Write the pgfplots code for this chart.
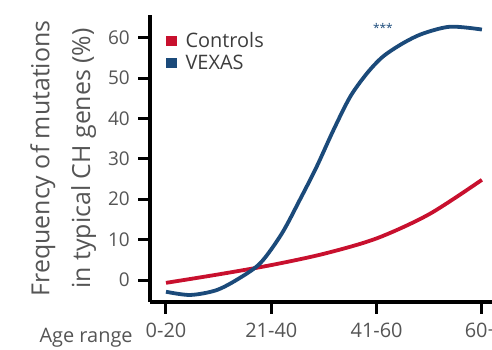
\documentclass[border=0pt]{standalone}
\usepackage{pgfplots}
\pgfplotsset{compat=1.18}
\usepackage{fontspec}
\setmainfont{Open Sans}
\definecolor{ctrl}{HTML}{C8102E}
\definecolor{vex}{HTML}{1B4A7A}
\definecolor{txt}{HTML}{555555}
\definecolor{legtxt}{HTML}{3C3C3C}
\begin{document}
\begin{tikzpicture}
\begin{axis}[
  x=105.3bp, y=4.04bp,
  xmin=-0.15, xmax=3.3, ymin=-5.4, ymax=65.6,
  axis lines=left,
  axis line style={line width=4.2bp, -, black},
  clip=false,
  xtick={0,1,2,3}, xticklabels={0-20,21-40,41-60,60+},
  ytick={0,10,20,30,40,50,60},
  tick align=outside,
  major tick length=12bp,
  tick style={line width=3bp, black},
  ticklabel style={font=\fontsize{20}{24}\selectfont, text=txt},
  xticklabel style={yshift=-6bp},
  yticklabel style={font=\fontsize{19}{23}\selectfont, xshift=-5bp},
  /pgf/number format/assume math mode=true,
  ylabel={Frequency of mutations\\in typical CH genes (\%)},
  ylabel style={at={(axis description cs:-0.2395,0.5)}, anchor=center,
    align=center, font=\fontsize{25}{41}\selectfont, text=txt},
  legend style={at={(axis cs:0.0,61.6)}, anchor=north west, draw=none, fill=none,
    font=\fontsize{20}{24}\selectfont, text=legtxt, inner sep=0pt,
    row sep=3bp, nodes={inner sep=1.5bp}},
  legend cell align=left,
  legend image code/.code={\fill[#1, draw=none] (0bp,-5bp) rectangle (11bp,5bp); \path (16bp,0bp);},
]
\addplot[ctrl, line width=3.8bp, smooth] coordinates {
  (0,-0.7) (0.5,1.4) (1,3.7) (1.5,6.5) (2.0,10.3) (2.5,16.3) (3.0,24.8)};
\addlegendentry{Controls}
\addplot[vex, line width=3.8bp, smooth] coordinates {
  (0,-2.9) (0.23,-3.7) (0.48,-2.5) (0.7,0.5) (0.9,4.3) (1.1,11.5)
  (1.27,19.8) (1.43,28.0) (1.59,37.1) (1.75,45.4)
  (1.91,51.2) (2.06,55.3) (2.25,58.6) (2.44,61.0) (2.70,62.7) (3.0,62.0)};
\addlegendentry{VEXAS}
\node[text=vex, font=\fontsize{12}{14}\selectfont] at (axis cs:2.06,62.4) {***};
\node[anchor=north east, text=txt, font=\fontsize{20}{24}\selectfont, inner sep=0pt]
  at (axis cs:-0.315,-11.9) {Age range};
\coordinate (BL) at (axis cs:-1.5764,-17.08);
\coordinate (TR) at (axis cs:3.0959,69.31);
\end{axis}
\pgfresetboundingbox
\useasboundingbox (BL) rectangle (TR);
\end{tikzpicture}
\end{document}
